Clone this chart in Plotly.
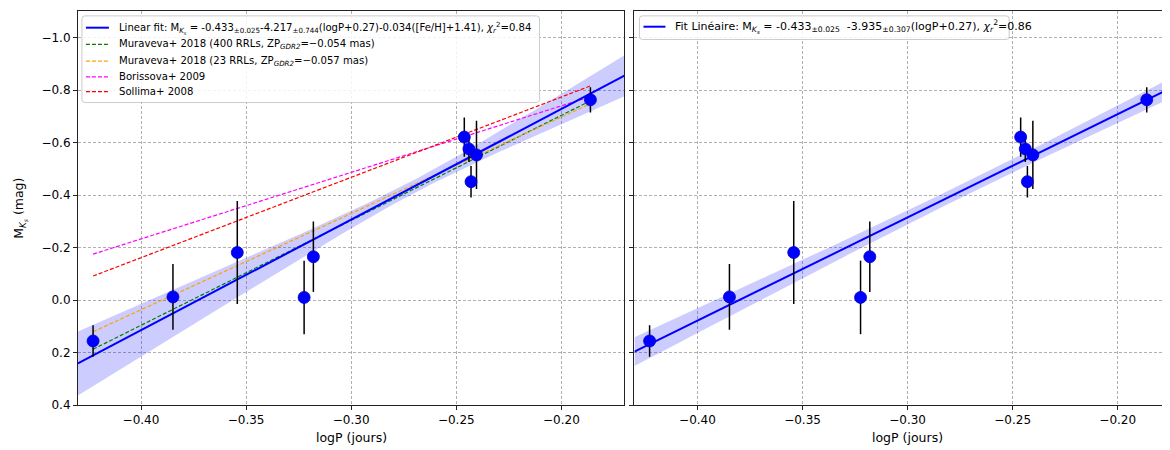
import numpy as np
import plotly.graph_objects as go

# ---------------- data ----------------
logP = [-0.4228, -0.3848, -0.3542, -0.3224, -0.3180, -0.2462, -0.2440, -0.2430, -0.2404, -0.1862]
M_Ks = [0.156, -0.012, -0.181, -0.010, -0.165, -0.621, -0.576, -0.451, -0.553, -0.763]
M_err = [0.060, 0.125, 0.196, 0.140, 0.134, 0.075, 0.050, 0.060, 0.130, 0.048]

# fit coefficients: [zero point, sigma zp, slope, sigma slope], pivot logP = -0.27
fit_left = [-0.433, 0.025, -4.217, 0.744]
fit_right = [-0.433, 0.025, -3.935, 0.307]
pivot = 0.27

# literature relations, values at the ends of the data range
ref_logP = [-0.4228, -0.1862]
muraveva_400 = [0.1875, -0.759]
muraveva_23 = [0.121, -0.748]
borissova = [-0.175, -0.775]
sollima = [-0.0915, -0.816]

x_ticks = [-0.40, -0.35, -0.30, -0.25, -0.20]
y_ticks = [-1.0, -0.8, -0.6, -0.4, -0.2, 0.0, 0.2, 0.4]

MKS = "M<sub><i>K</i><sub><i>s</i></sub></sub>"
CHI = "<i>χ</i><sub><i>r</i></sub><sup>2</sup>"
label_fit_left = (f"Linear fit: {MKS} = -0.433<sub>±0.025</sub>-4.217<sub>±0.744</sub>"
                  f"(logP+0.27)-0.034([Fe/H]+1.41), {CHI}=0.84")
label_fit_right = (f"Fit Linéaire: {MKS} = -0.433<sub>±0.025</sub>\u00a0\u00a0-3.935<sub>±0.307</sub>"
                   f"(logP+0.27), {CHI}=0.86")
label_refs = ["Muraveva+ 2018 (400 RRLs, ZP<sub><i>GDR2</i></sub>=−0.054 mas)",
              "Muraveva+ 2018 (23 RRLs, ZP<sub><i>GDR2</i></sub>=−0.057 mas)",
              "Borissova+ 2009",
              "Sollima+ 2008"]

# ---------------- figure ----------------
W, H = 1170, 450
FONT = "DejaVu Sans"
BLUE = "#0000ff"
ref_colors = ["#008000", "#ffa500", "#ff00ff", "#ff0000"]
DASH = "4px,2px"
fig = go.Figure()

xgrid = np.linspace(-0.43, -0.17, 80)


def add_fit(coef, xa, ya):
    a, sa, b, sb = coef
    y = a + b * (xgrid + pivot)
    s = np.sqrt(sa ** 2 + (sb * (xgrid + pivot)) ** 2)
    fig.add_trace(go.Scatter(
        x=np.concatenate([xgrid, xgrid[::-1]]),
        y=np.concatenate([y - s, (y + s)[::-1]]),
        fill="toself", fillcolor="rgba(0,0,255,0.2)", line=dict(width=0),
        mode="lines", hoverinfo="skip", showlegend=False, xaxis=xa, yaxis=ya))
    return y


y_left = add_fit(fit_left, "x", "y")
y_right = add_fit(fit_right, "x2", "y2")

for vals, col in zip([muraveva_400, muraveva_23, borissova, sollima], ref_colors):
    fig.add_trace(go.Scatter(
        x=ref_logP, y=vals, mode="lines", showlegend=False,
        line=dict(color=col, width=1.2, dash=DASH), xaxis="x", yaxis="y"))

fig.add_trace(go.Scatter(x=xgrid, y=y_left, mode="lines", showlegend=False,
                         line=dict(color=BLUE, width=2), xaxis="x", yaxis="y"))
fig.add_trace(go.Scatter(x=xgrid, y=y_right, mode="lines", showlegend=False,
                         line=dict(color=BLUE, width=2), xaxis="x2", yaxis="y2"))

for xa, ya in [("x", "y"), ("x2", "y2")]:
    fig.add_trace(go.Scatter(
        x=logP, y=M_Ks, mode="markers",
        marker=dict(color=BLUE, size=12, line=dict(color="#0000cc", width=0.8)),
        error_y=dict(type="data", array=M_err, color="black", thickness=1.5, width=0),
        showlegend=False, xaxis=xa, yaxis=ya))

# ---------------- layout ----------------
L1, R1 = 70, 617
L2, R2 = 627, 1170
T, B = 3.4, 403.3
dom_y = [1 - B / H, 1 - T / H]

axis_common = dict(
    showline=True, linecolor="#222", linewidth=1, mirror=True,
    ticks="outside", ticklen=4, tickcolor="#222", tickwidth=1,
    showgrid=True, gridcolor="#b0b0b0", griddash="3px,2px", gridwidth=0.8,
    zeroline=False, tickfont=dict(family=FONT, size=12, color="black"),
)
fig.update_layout(
    width=W, height=H, margin=dict(l=0, r=0, t=0, b=0),
    paper_bgcolor="white", plot_bgcolor="white",
    font=dict(family=FONT, color="black"), showlegend=False,
    xaxis=dict(domain=[L1 / W, R1 / W], range=[-0.43, -0.17], tickvals=x_ticks,
               tickformat=".2f", anchor="y", **axis_common),
    yaxis=dict(domain=dom_y, range=[0.4, -1.1], tickvals=y_ticks,
               tickformat=".1f", anchor="x", **axis_common),
    xaxis2=dict(domain=[L2 / W, R2 / W], range=[-0.43, -0.1718], tickvals=x_ticks,
                tickformat=".2f", anchor="y2", **axis_common),
    yaxis2=dict(domain=dom_y, range=[0.4, -1.1], tickvals=y_ticks,
                showticklabels=False, anchor="x2", **axis_common),
)


def px(x):
    return x / W


def py(y):
    return 1 - y / H


def rounded_box(x0, y0, x1, y1, r=3):
    rx, ry = r / W, r / H
    X0, X1, Y0, Y1 = px(x0), px(x1), py(y0), py(y1)
    path = (f"M {X0 + rx},{Y0} L {X1 - rx},{Y0} Q {X1},{Y0} {X1},{Y0 - ry} "
            f"L {X1},{Y1 + ry} Q {X1},{Y1} {X1 - rx},{Y1} "
            f"L {X0 + rx},{Y1} Q {X0},{Y1} {X0},{Y1 + ry} "
            f"L {X0},{Y0 - ry} Q {X0},{Y0} {X0 + rx},{Y0} Z")
    fig.add_shape(type="path", path=path, xref="paper", yref="paper",
                  fillcolor="rgba(255,255,255,0.85)", line=dict(color="#cccccc", width=1),
                  layer="above")


def legend_entry(x_line, x_text, y, label, color, dash, width, size):
    fig.add_shape(type="line", xref="paper", yref="paper",
                  x0=px(x_line[0]), x1=px(x_line[1]), y0=py(y), y1=py(y),
                  line=dict(color=color, width=width, dash=dash), layer="above")
    fig.add_annotation(xref="paper", yref="paper", x=px(x_text), y=py(y),
                       xanchor="left", yanchor="middle", showarrow=False, text=label,
                       font=dict(family=FONT, size=size, color="black"))


# left legend
rounded_box(74, 8, 532, 96)
rows_y = [20, 37, 54, 70, 85]
legend_entry((78, 101), 109, rows_y[0], label_fit_left, BLUE, "solid", 2, 10.1)
for yy, lab, col in zip(rows_y[1:], label_refs, ref_colors):
    legend_entry((78, 101), 109, yy, lab, col, DASH, 1.2, 10.1)

# right legend
rounded_box(632, 8, 1002, 32)
legend_entry((636, 658), 666, 19, label_fit_right, BLUE, "solid", 2, 11)

ann = [
    dict(text="logP (jours)", x=(L1 + R1) / 2 / W, y=1 - 436 / H),
    dict(text="logP (jours)", x=(L2 + 1173.7) / 2 / W, y=1 - 436 / H),
    dict(text=f"{MKS} (mag)", x=12 / W, y=1 - 203 / H, textangle=-90),
]
for a in ann:
    fig.add_annotation(xref="paper", yref="paper", showarrow=False,
                       xanchor="center", yanchor="middle",
                       font=dict(family=FONT, size=12.5, color="black"), **a)

fig.write_html("out.html")
